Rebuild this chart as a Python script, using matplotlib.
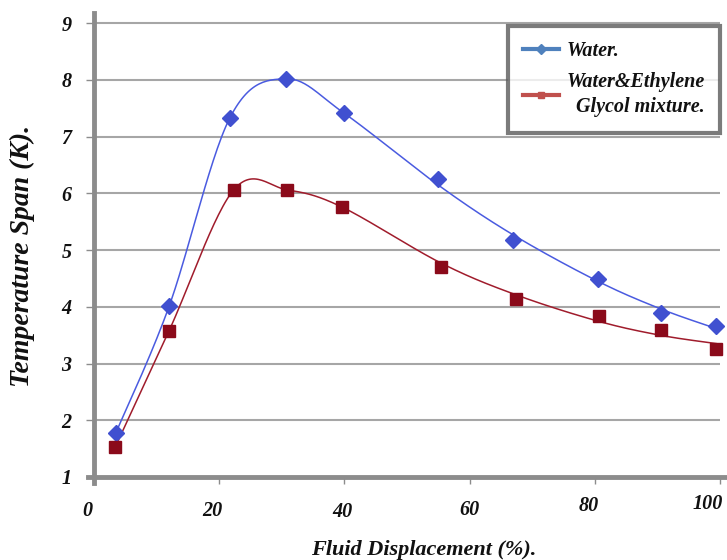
import numpy as np
import matplotlib
matplotlib.use("Agg")
from matplotlib import pyplot as plt
from matplotlib.lines import Line2D
from matplotlib.transforms import offset_copy

# 数据
displacement_water = [3.5, 12, 21.7, 30.7, 40, 55, 67, 80.5, 90.6, 99.4]
span_water = [1.78, 4.01, 7.33, 8.02, 7.41, 6.26, 5.18, 4.49, 3.89, 3.66]

displacement_glycol = [3.4, 12, 22.3, 30.9, 39.6, 55.4, 67.4, 80.6, 90.6, 99.4]
span_glycol = [1.53, 3.58, 6.06, 6.06, 5.76, 4.70, 4.14, 3.84, 3.59, 3.26]

x_ticks = [0, 20, 40, 60, 80, 100]
y_ticks = [1, 2, 3, 4, 5, 6, 7, 8, 9]


def smooth_line(xs, ys, tail_from=4, n=30):
    # 趋势线: 前段用原始点, 后段用二次拟合值, 再做 Catmull-Rom 贝塞尔平滑
    xs = np.asarray(xs, float)
    ys = np.asarray(ys, float).copy()
    coef = np.polyfit(xs[tail_from:], ys[tail_from:], 2)
    ys[tail_from + 1:] = np.polyval(coef, xs[tail_from + 1:])
    p = np.column_stack([xs, ys])
    p = np.vstack([p[0], p, p[-1]])
    out = []
    t = np.linspace(0, 1, n)[:, None]
    for i in range(1, len(p) - 2):
        p0, p1, p2, p3 = p[i - 1], p[i], p[i + 1], p[i + 2]
        b1 = p1 + (p2 - p0) / 6
        b2 = p2 - (p3 - p1) / 6
        seg = ((1 - t) ** 3) * p1 + 3 * ((1 - t) ** 2) * t * b1 + 3 * (1 - t) * t ** 2 * b2 + t ** 3 * p2
        out.append(seg)
    out = np.vstack(out)
    return out[:, 0], out[:, 1]


font = ["Liberation Serif", "DejaVu Serif"]
txt = dict(family=font, weight="bold", style="italic", color="#111111")

fig = plt.figure(figsize=(7.27, 5.6), dpi=100)
ax = fig.add_axes([94 / 727, 1 - 477 / 560, (720 - 94) / 727, (477 - 13) / 560])

ax.set_xlim(0, 100)
ax.set_ylim(1, 9.18)

# 网格线
for yv in y_ticks[1:]:
    ax.axhline(yv, color="#a6a6a6", lw=1.5, zorder=1)

sx, sy = smooth_line(displacement_water, span_water)
ax.plot(sx, sy, color="#4a5be0", lw=1.1, zorder=3)
ax.plot(displacement_water, span_water, ls="none", marker="D", ms=8,
        color="#4050d0", zorder=4, clip_on=False)

sx, sy = smooth_line(displacement_glycol, span_glycol)
ax.plot(sx, sy, color="#a01c2c", lw=1.1, zorder=3)
ax.plot(displacement_glycol, span_glycol, ls="none", marker="s", ms=8,
        color="#8b0a1a", zorder=4, clip_on=False)

# 坐标轴
for side in ["top", "right"]:
    ax.spines[side].set_visible(False)
for side in ["left", "bottom"]:
    ax.spines[side].set_color("#8c8c8c")
    ax.spines[side].set_linewidth(3.5)
ax.spines["left"].set_bounds(0.9, 9.18)
ax.spines["bottom"].set_bounds(-1, 100.8)

ax.set_xticks(x_ticks)
ax.set_yticks(y_ticks)
ax.set_xticklabels([str(v) for v in x_ticks], **txt, fontsize=14.5)
ax.set_yticklabels([str(v) for v in y_ticks], **txt, fontsize=14.5)
ax.tick_params(axis="x", length=5, width=1, color="#8c8c8c", pad=12)
ax.tick_params(axis="y", length=6, width=1, color="#8c8c8c", pad=10)
# 原图刻度标签位置略有偏移
shifts = [(-7, 0), (-7, 0), (-2, -1), (0, 1), (-6, 5), (-12, 7)]
for lab, (dx, dy) in zip(ax.get_xticklabels(), shifts):
    lab.set_transform(offset_copy(lab.get_transform(), fig=fig, x=dx, y=dy, units="dots"))

ax.set_xlabel("Fluid Displacement (%).", **txt, fontsize=16)
ax.xaxis.set_label_coords(0.527, -0.136)
ax.set_ylabel("Temperature Span (K).", **txt, fontsize=20)
ax.yaxis.set_label_coords(-0.094, 0.476)

# 图例
handles = [
    Line2D([], [], color="#4f81bd", lw=3, marker="D", ms=5),
    Line2D([], [], color="#c0504d", lw=3, marker="s", ms=5),
]
leg = ax.legend(handles, ["Water.", "Water&Ethylene\nGlycol mixture."],
                loc="upper left", bbox_to_anchor=(508 / 727, 1 - 26 / 560),
                bbox_transform=fig.transFigure, frameon=True, fancybox=False,
                borderaxespad=0,
                prop=dict(family=font, weight="bold", style="italic", size=14.5),
                handlelength=1.8, handletextpad=0.35, borderpad=0.75,
                labelspacing=0.55)
leg.get_frame().set_edgecolor("#5a5a5a")
leg.get_frame().set_linewidth(3)
for t in leg.get_texts():
    t.set_multialignment("right")
    t.set_linespacing(1.35)
    t.set_color("#111111")

plt.savefig("out.png", dpi=100)
